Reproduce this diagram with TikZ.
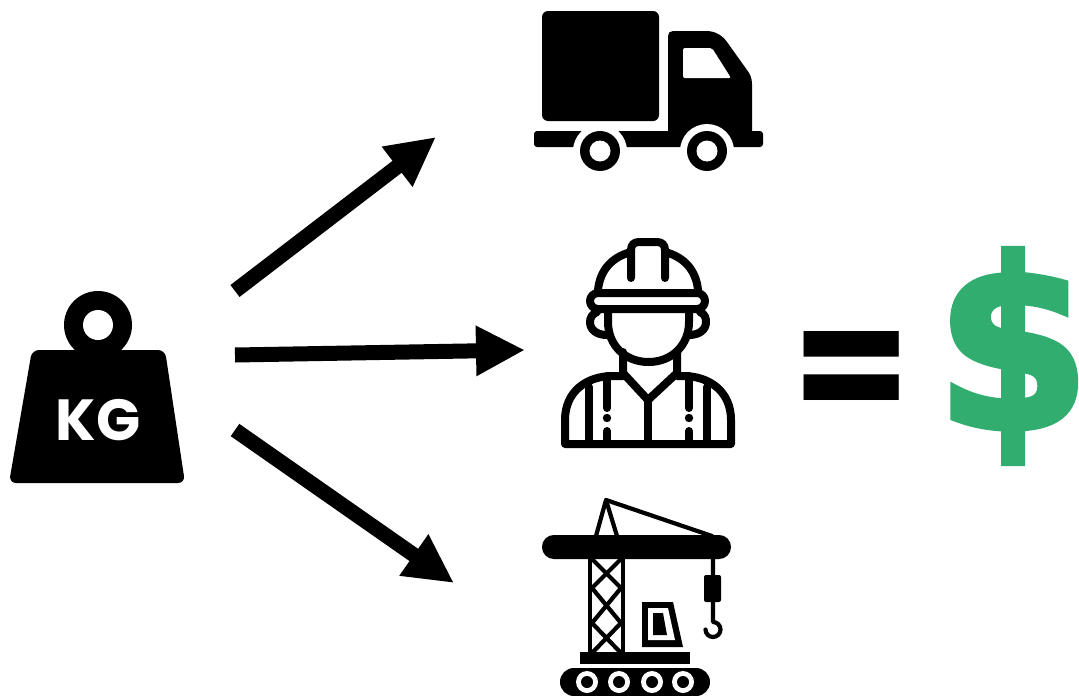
\documentclass[tikz,border=0pt]{standalone}
\usepackage{fontspec}
\usepackage{xcolor}
\usetikzlibrary{positioning, arrows.meta, calc}
\newfontfamily\kgfont{Poppins}
\newfontfamily\moneyfont{DejaVu Sans}[BoldFeatures={FakeBold=3}]
\definecolor{moneycolor}{HTML}{31AD70}
\tikzset{
  bigarrow/.style={line width=15pt, -{Triangle[length=49pt, width=47pt]}},
  workerline/.style={line width=8pt, line cap=round, line join=round},
  craneline/.style={line width=4.2pt, line cap=round, line join=round},
  signtext/.style={inner sep=0pt, font=\kgfont\bfseries\fontsize{#1}{#1}\selectfont}
}

\begin{document}
\begin{tikzpicture}[x=1pt, y=-1pt]
        \useasboundingbox (0,0) rectangle (1079,696);
        % Weight
        \fill (98,325) circle (34);
        \fill[white] (98,325) circle (15);
        \fill[rounded corners=7pt] (32,350) -- (165,350) -- (185,483) -- (9,483) -- cycle;
        \node[white, inner sep=0pt, font=\kgfont\bfseries\fontsize{58}{58}\selectfont] (kg) at (98,420) {KG};
        % Truck
        \fill[rounded corners=6pt] (542,11) rectangle (659,121);
        \fill (668,131) -- (668,36) .. controls (668,33) and (670,31) .. (673,31) -- (706,31)
          .. controls (715,31) and (722,35) .. (727,42) -- (747,70)
          .. controls (750,74) and (752,78) .. (752,84) -- (752,134) -- cycle;
        \fill[rounded corners=3pt] (534,131) rectangle (763,147);
        \fill[white, rounded corners=2pt] (683,48) -- (712,48) -- (731,78) -- (683,78) -- cycle;
        \foreach \x in {600, 707} {
          \fill[white] (\x,151) circle (27);
          \fill (\x,151) circle (20);
          \fill[white] (\x,151) circle (10.5);
        }
        % Worker
        \begin{scope}[workerline]
          \draw (598,290) .. controls (600,270) and (612,257) .. (631,252);
          \draw (698,290) .. controls (696,270) and (684,257) .. (665,252);
          \draw (631,278) -- (631,250) .. controls (631,245) and (634,242) .. (639,242) -- (657,242) .. controls (662,242) and (665,245) .. (665,250) -- (665,278);
          \draw[rounded corners=8pt] (590,293) rectangle (705,309);
          \draw (608,309) -- (608,322) .. controls (608,345) and (625,362) .. (648.5,362) .. controls (672,362) and (689,345) .. (689,322) -- (689,309);
          \draw (597,312) .. controls (592,314) and (590,318) .. (590,322) .. controls (590,330) and (597,335) .. (607,335);
          \draw (700,312) .. controls (705,314) and (706,318) .. (706,322) .. controls (706,330) and (699,335) .. (689,335);
          \draw (623,352) -- (623,373) -- (648,400) -- (677,373) -- (677,352);
          \draw (648,400) -- (648,444);
          \draw (623,376) -- (613,376) .. controls (586,376) and (565,392) .. (565,420) -- (565,444) -- (731,444) -- (731,420) .. controls (731,392) and (710,376) .. (683,376) -- (677,376);
          \foreach \x in {589, 707} { \draw (\x,387) -- (\x,444); }
          \foreach \x in {607, 689} {
            \draw (\x,376) -- (\x,408);
            \fill (\x,418) circle (4.2);
            \draw (\x,431) -- (\x,444);
          }
        \end{scope}
        % Crane
        \fill[rounded corners=11.9pt] (542,535) rectangle (731,559);
        \begin{scope}[craneline]
          \draw (596,536) -- (606,500) -- (617,536);
          \draw (606,500) -- (712,536);
          \draw (590,559) -- (590,653);
          \draw (623,559) -- (623,653);
          \draw (592,559) -- (621,588) -- (592,623) -- (621,653);
          \draw (621,559) -- (592,588) -- (621,623) -- (592,653);
          \draw (713,559) -- (713,622) arc[start angle=-90, end angle=180, radius=7.5];
        \end{scope}
        \fill[rounded corners=2pt] (704,575) rectangle (721,602);
        \fill (580,652) rectangle (690,664);
        \fill (642,602) -- (673,602) -- (683,647) -- (642,647) -- cycle;
        \fill[white] (648,608) -- (668,608) -- (675,640) -- (648,640) -- cycle;
        \fill (653,613) -- (663,613) -- (667,635) -- (653,635) -- cycle;
        \fill[rounded corners=13.9pt] (560,668) rectangle (710,696);
        \foreach \x in {587, 619, 652, 683} {
          \fill[white] (\x,682) circle (11);
          \fill (\x,682) circle (6);
        }
        % Arrows
        \coordinate (upstart) at (235,291);
        \coordinate (upend) at (436,137);
        \coordinate (midstart) at (235,355);
        \coordinate (midend) at (525,350);
        \coordinate (downstart) at (235,430);
        \coordinate (downend) at (454,583);
        \draw[bigarrow] (upstart) -- (upend);
        \draw[bigarrow] (midstart) -- (midend);
        \draw[bigarrow] (downstart) -- (downend);
        % Equals and dollar
        \node[signtext=170] (equals) at (852,378) {=};
        \node[inner sep=0pt, xscale=0.94, font=\moneyfont\bfseries\fontsize{235}{235}\selectfont, text=moneycolor] (dollar) at (1013,356) {\$};
      \end{tikzpicture}
\end{document}
